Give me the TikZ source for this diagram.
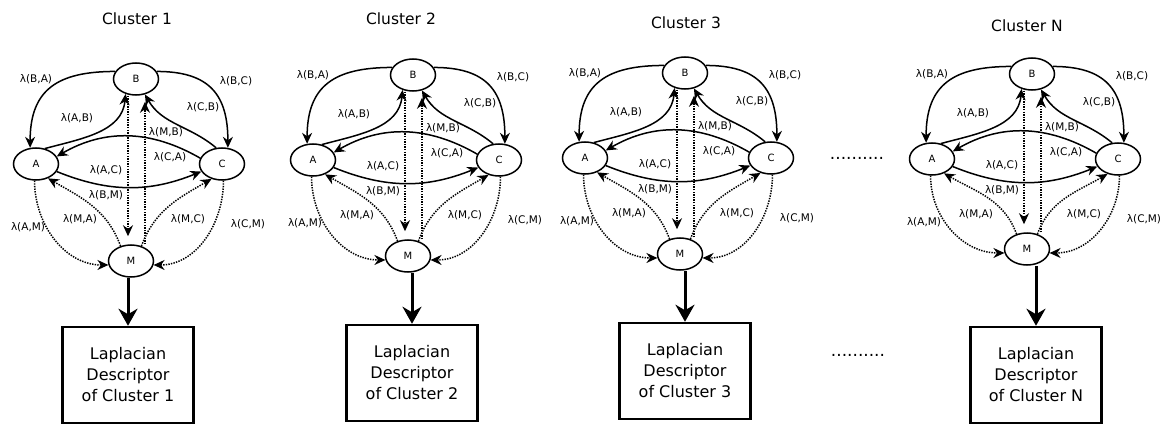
\documentclass[tikz,border=0pt]{standalone}
\usepackage{fontspec}
\setmainfont{DejaVu Sans}
\usetikzlibrary{arrows.meta,positioning,shapes.geometric}
\tikzset{
  stnode/.style={draw, ellipse, line width=1.5pt, minimum width=45pt, minimum height=32pt,
    inner sep=0pt, font=\fontsize{10}{12}\selectfont},
  rate/.style={font=\fontsize{10.5}{12}\selectfont, inner sep=0.5pt},
  link/.style={line width=1.5pt, -{Stealth[length=11pt,width=10pt]}},
  hop/.style={link, dash pattern=on 1.4pt off 1.2pt},
  descbox/.style={draw, line width=2.5pt, minimum width=131pt, minimum height=96pt,
    align=center, font=\fontsize{16}{21}\selectfont},
  toptitle/.style={font=\fontsize{15.5}{18}\selectfont},
  feed/.style={line width=3pt, -{Stealth[length=17pt,width=19pt]}},
  gapdots/.style={font=\fontsize{17}{18}\selectfont, inner sep=0pt},
}
\begin{document}
\begin{tikzpicture}[x=1pt,y=-1pt]
\useasboundingbox (0,0) rectangle (1168,428);
\foreach \k/\ax/\ay/\my/\tx/\ty/\dx/\dy in {1/36/164/97/137/19/128/375,
    2/313/160/96/401/19/412/373, 3/585/158/96/686/23/685/371,
    N/932/159/90/1027/26/1036/375} {
  % states of the cluster
  \node[toptitle] (T\k) at (\tx,\ty) {Cluster \k};
  \node[stnode] (A\k) at (\ax,\ay) {A};
  \node[stnode] (B\k) at ({\ax+100},{\ay-85}) {B};
  \node[stnode] (C\k) at ({\ax+186},\ay) {C};
  \node[stnode] (M\k) at ({\ax+95},{\ay+\my}) {M};
  % solid transitions
  \draw[link] (B\k.160) to[out=180,in=90,looseness=1.3] (A\k.110);
  \draw[link] (A\k.60) to[out=15,in=265] (B\k.235);
  \draw[link] (B\k.20) to[out=0,in=90,looseness=1.3] (C\k.70);
  \draw[link] (C\k.110) to[out=140,in=300] (B\k.300);
  \draw[link] (C\k.165) to[out=150,in=30] (A\k.20);
  \draw[link] (A\k.-20) to[out=-22,in=202] (C\k.200);
  % dotted transitions
  \draw[hop, shorten >=8pt] ([xshift=-8pt]B\k.south) -- ([xshift=-8pt]B\k.south |- M\k.north);
  \draw[hop, shorten >=6pt] ([xshift=9pt]B\k.south |- M\k.north) -- ([xshift=9pt]B\k.south);
  \draw[hop] (M\k.125) to[out=110,in=-30] (A\k.-50);
  \draw[hop] (A\k.265) to[out=-90,in=180] (M\k.190);
  \draw[hop] (M\k.55) to[out=70,in=210] (C\k.235);
  \draw[hop] (C\k.275) to[out=-90,in=0] (M\k.-10);
  % rates
  \node[rate] (lBA\k) at (\ax,{\ay-85}) {λ(B,A)};
  \node[rate] (lAB\k) at ({\ax+41},{\ay-46}) {λ(A,B)};
  \node[rate] (lBC\k) at ({\ax+200},{\ay-83}) {λ(B,C)};
  \node[rate] (lCB\k) at ({\ax+167},{\ay-57}) {λ(C,B)};
  \node[rate] (lMB\k) at ({\ax+130},{\ay-32}) {λ(M,B)};
  \node[rate] (lCA\k) at ({\ax+134},{\ay-7}) {λ(C,A)};
  \node[rate] (lAC\k) at ({\ax+70},{\ay+6}) {λ(A,C)};
  \node[rate] (lBM\k) at ({\ax+70},{\ay+31}) {λ(B,M)};
  \node[rate] (lMA\k) at ({\ax+44},{\ay+55}) {λ(M,A)};
  \node[rate] (lAM\k) at ({\ax-8},{\ay+63}) {λ(A,M)};
  \node[rate] (lMC\k) at ({\ax+152},{\ay+55}) {λ(M,C)};
  \node[rate] (lCM\k) at ({\ax+212},{\ay+60}) {λ(C,M)};
  % descriptor
  \node[descbox] (D\k) at (\dx,\dy) {Laplacian\\Descriptor\\of Cluster \k};
  \draw[feed] (M\k.south -| D\k.north) -- (D\k.north);
}
\node[gapdots] (gap1) at (857,158) {..........};
\node[gapdots] (gap2) at (858,355) {..........};
\end{tikzpicture}
\end{document}
